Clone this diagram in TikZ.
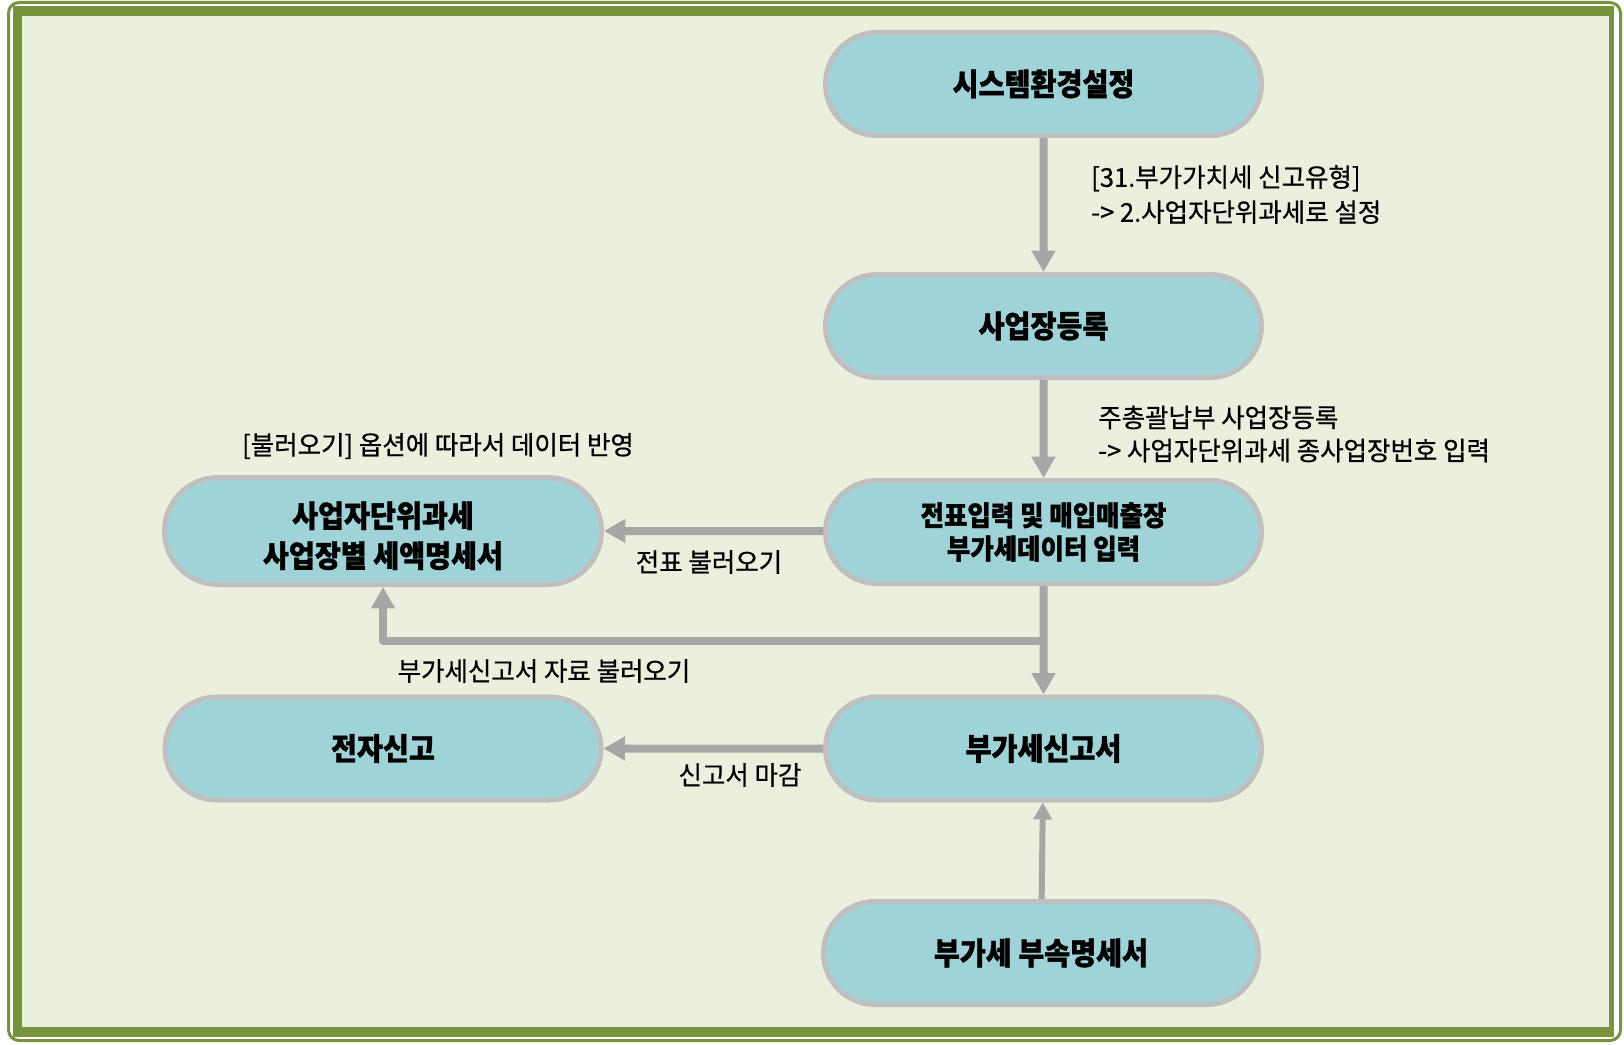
\documentclass[tikz,border=0pt]{standalone}
\usepackage{fontspec}
\newfontfamily\krn{Noto Sans CJK KR}[FakeStretch=0.92, BoldFeatures={FakeBold=1.2}]
\newfontfamily\krl{Noto Sans CJK KR}[FakeStretch=0.98, FakeBold=0.6]
\usetikzlibrary{shapes.misc,arrows.meta}
\definecolor{frgreen}{RGB}{119,147,60}
\definecolor{bgc}{RGB}{235,240,222}
\definecolor{nfill}{RGB}{159,211,216}
\definecolor{nline}{RGB}{191,191,191}
\definecolor{arr}{RGB}{166,166,166}
\begin{document}
\begin{tikzpicture}[x=0.75pt,y=-0.75pt,
 proc/.style={rounded rectangle, draw=nline, line width=3.75pt, fill=nfill,
   minimum width=327pt, minimum height=77.25pt, inner sep=0pt, align=center,
   font=\krn\bfseries\fontsize{23}{30}\selectfont},
 lbl/.style={inner sep=0pt, align=left, font=\krl\fontsize{19.5}{26}\selectfont},
 flow/.style={draw=arr, line width=6pt, line join=round, -{Triangle[width=17pt,length=16pt]}},
]
\useasboundingbox (0,0) rectangle (1624,1045);
\fill[white] (0,0) rectangle (1624,1045);
\draw[frgreen, line width=2.25pt, rounded corners=8pt] (8.5,2.5) rectangle (1620.5,1040.5);
\fill[frgreen] (13,6) rectangle (1614,1037);
\fill[bgc] (22,16) rectangle (1609,1027);

\node[proc] (env) at (1043.5,84) {시스템환경설정};
\node[proc] (biz) at (1043.5,326) {사업장등록};
\node[proc, font=\krn\bfseries\fontsize{20.75}{25}\selectfont] (slip) at (1043.5,532) {전표입력 및 매입매출장\\부가세데이터 입력};
\node[proc, minimum width=327.75pt, minimum height=80.25pt] (unit) at (383,531) {\raisebox{-3.5pt}[\height][\depth]{\parbox{300pt}{\centering 사업자단위과세\\사업장별 세액명세서}}};
\node[proc] (vat) at (1043.5,748.5) {부가세신고서};
\node[proc] (elec) at (383,748.5) {전자신고};
\node[proc, minimum width=326.25pt] (att) at (1041,953) {부가세 부속명세서};

\coordinate (br) at (1043.5,641);
\draw[flow] (env) -- (biz);
\draw[flow] (biz) -- (slip);
\draw[flow] (slip.west |- unit) -- (unit);
\draw[flow] (slip) -- (vat);
\draw[flow] (br) -| (unit.south);
\draw[flow] (vat) -- (elec);
\draw[draw=arr, line width=4.5pt, -{Triangle[width=13.5pt,length=12.75pt]}] (att) -- (vat);

\node[lbl, anchor=west, font=\krl\fontsize{19.5}{26.25}\selectfont] (t1) at (1091,194.5) {[31.부가가치세 신고유형]\\-> 2.사업자단위과세로 설정};
\node[lbl, anchor=west, font=\krl\fontsize{19.5}{24.75}\selectfont] (t2) at (1098,434) {주총괄납부 사업장등록\\-> 사업자단위과세 종사업장번호 입력};
\node[lbl] (t3) at (438,446) {[불러오기] 옵션에 따라서 데이터 반영};
\node[lbl] (t4) at (709,562) {전표 불러오기};
\node[lbl] (t5) at (544,671) {부가세신고서 자료 불러오기};
\node[lbl] (t6) at (740,775) {신고서 마감};
\end{tikzpicture}
\end{document}
